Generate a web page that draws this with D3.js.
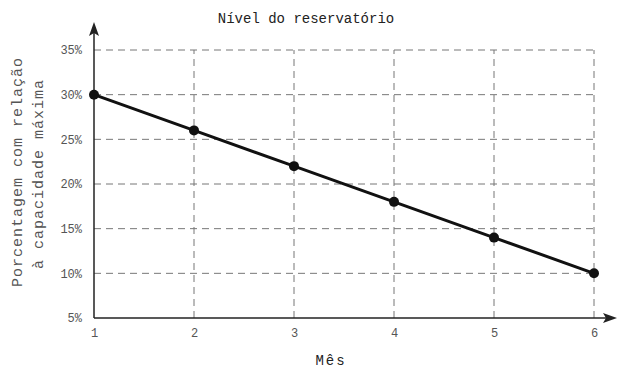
<!DOCTYPE html>
<html><head><meta charset="utf-8">
<script src="https://cdn.jsdelivr.net/npm/d3@7"></script>
<style>body{margin:0;background:#fff}</style>
</head><body>
<script>
const months = [1, 2, 3, 4, 5, 6];
const levels = [30, 26, 22, 18, 14, 10];
const yTicks = [5, 10, 15, 20, 25, 30, 35];
const title = "Nível do reservatório";
const xTitle = "Mês";
const yTitle = ["Porcentagem com relação", "à capacidade máxima"];

const W = 617, H = 372;
const svg = d3.select("body").append("svg").attr("width", W).attr("height", H);
const x = d3.scaleLinear().domain([1, 6]).range([94, 594]);
const y = d3.scaleLinear().domain([5, 35]).range([318, 50]);
const mono = "'Liberation Mono', 'DejaVu Sans Mono', monospace";

// grid
const g = svg.append("g");
g.selectAll("line.h").data(yTicks.filter(d => d > 5)).enter().append("line")
  .attr("x1", x(1)).attr("x2", x(6)).attr("y1", d => y(d)).attr("y2", d => y(d))
  .attr("stroke", "#777").attr("stroke-width", 1).attr("stroke-dasharray", "7,5");
g.selectAll("line.v").data(months.filter(d => d > 1)).enter().append("line")
  .attr("x1", d => x(d)).attr("x2", d => x(d)).attr("y1", y(5)).attr("y2", y(35))
  .attr("stroke", "#777").attr("stroke-width", 1).attr("stroke-dasharray", "7,5");

// axes
const xAxis = svg.append("g").attr("transform", `translate(0,${y(5)})`)
  .call(d3.axisBottom(x).tickValues(months).tickSize(0).tickPadding(10).tickFormat(d3.format("d")));
xAxis.select(".domain").remove();
xAxis.selectAll("text").attr("font-family", mono).attr("font-size", 12).attr("fill", "#555");
const yAxis = svg.append("g").attr("transform", `translate(${x(1)},0)`)
  .call(d3.axisLeft(y).tickValues(yTicks).tickSize(0).tickPadding(12).tickFormat(d => d + "%"));
yAxis.select(".domain").remove();
yAxis.selectAll("text").attr("font-family", mono).attr("font-size", 12).attr("fill", "#555");

// axis lines with arrows
svg.append("line").attr("x1", x(1)).attr("x2", 606).attr("y1", y(5)).attr("y2", y(5)).attr("stroke", "#222").attr("stroke-width", 1.5);
svg.append("path").attr("d", `M617,${y(5)} L603,${y(5)-5} L606,${y(5)} L603,${y(5)+5} Z`).attr("fill", "#222");
svg.append("line").attr("x1", x(1)).attr("x2", x(1)).attr("y1", y(5)).attr("y2", 32).attr("stroke", "#222").attr("stroke-width", 1.5);
svg.append("path").attr("d", `M${x(1)},22 L${x(1)-5},36 L${x(1)},33 L${x(1)+5},36 Z`).attr("fill", "#222");

// line and points
const data = months.map((m, i) => ({m, v: levels[i]}));
svg.append("path").datum(data)
  .attr("d", d3.line().x(d => x(d.m)).y(d => y(d.v)))
  .attr("fill", "none").attr("stroke", "#111").attr("stroke-width", 3);
svg.selectAll("circle").data(data).enter().append("circle")
  .attr("cx", d => x(d.m)).attr("cy", d => y(d.v)).attr("r", 5).attr("fill", "#111");

// titles
svg.append("text").attr("x", 306).attr("y", 23).attr("text-anchor", "middle")
  .attr("font-family", mono).attr("font-size", 14).attr("fill", "#222").text(title);
svg.append("text").attr("x", 331).attr("y", 365).attr("text-anchor", "middle")
  .attr("font-family", mono).attr("font-size", 14).attr("letter-spacing", 2).attr("fill", "#222").text(xTitle);
yTitle.forEach((t, i) => {
  svg.append("text").attr("transform", `translate(${22 + i * 21},${172 + i * 2}) rotate(-90)`)
    .attr("text-anchor", "middle").attr("font-family", mono).attr("font-size", 15)
    .attr("letter-spacing", 1).attr("fill", "#555").text(t);
});
</script>
</body></html>
